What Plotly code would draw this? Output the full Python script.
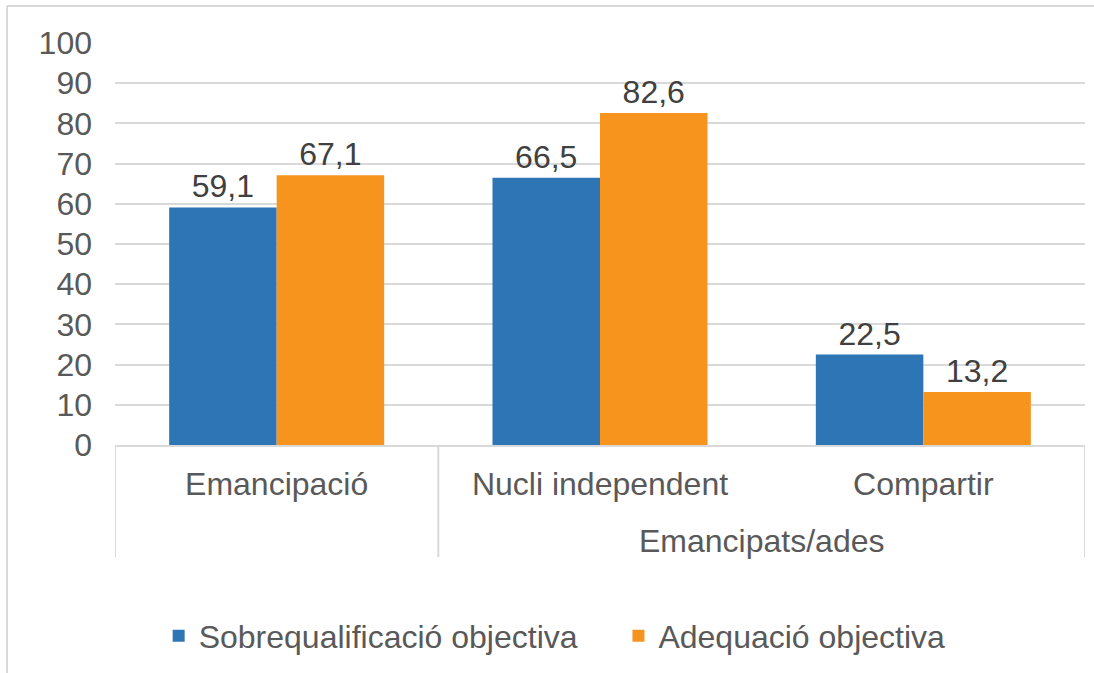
import plotly.graph_objects as go

categories = ["Emancipació", "Nucli independent", "Compartir"]
group_label = "Emancipats/ades"
series_names = ["Sobrequalificació objectiva", "Adequació objectiva"]
sobrequalificacio = [59.1, 66.5, 22.5]
adequacio = [67.1, 82.6, 13.2]
y_ticks = [0, 10, 20, 30, 40, 50, 60, 70, 80, 90, 100]

BLUE = "#2E75B6"
ORANGE = "#F7941E"
GRID = "#D9D9D9"
TXT = "#595959"
FONT = "Arial, Liberation Sans, sans-serif"
FS = 32

fig = go.Figure()
for name, vals, col, lg in [(series_names[0], sobrequalificacio, BLUE, "legend"),
                            (series_names[1], adequacio, ORANGE, "legend2")]:
    fig.add_trace(go.Bar(
        x=list(range(len(categories))), y=vals, name=name,
        marker=dict(color=col, line=dict(width=0)),
        text=vals, texttemplate="%{y:.1f}", textposition="outside",
        textfont=dict(family=FONT, size=FS, color="#404040"),
        cliponaxis=False, legend=lg,
    ))

legend_common = dict(orientation="h", yanchor="middle", xanchor="left",
                     font=dict(family=FONT, size=FS, color=TXT),
                     itemwidth=30, bgcolor="rgba(0,0,0,0)")

fig.update_layout(
    width=1094, height=673,
    margin=dict(l=115, r=9, t=43, b=228),
    paper_bgcolor="white", plot_bgcolor="white",
    separators=",.",
    barmode="group", bargap=0.335, bargroupgap=0,
    font=dict(family=FONT, size=FS, color=TXT),
    showlegend=True,
    legend=dict(x=0.045, y=-0.475, **legend_common),
    legend2=dict(x=0.519, y=-0.475, **legend_common),
    xaxis=dict(
        tickmode="array", tickvals=list(range(len(categories))), ticktext=categories,
        range=[-0.5, len(categories) - 0.5],
        showgrid=False, zeroline=False, showline=True, linecolor=GRID, linewidth=2,
        ticks="", ticklabelstandoff=10,
        tickfont=dict(family=FONT, size=FS, color=TXT),
    ),
    yaxis=dict(
        range=[0, 100], tickvals=y_ticks, showgrid=True, gridcolor=GRID, gridwidth=2,
        zeroline=False, showline=False, ticks="", ticklabelstandoff=22,
        tickfont=dict(family=FONT, size=FS, color=TXT),
    ),
)

# category/group divider lines below the axis
for xv in [-0.5, 0.5, len(categories) - 0.5]:
    fig.add_shape(type="line", xref="x", yref="paper", x0=xv, x1=xv, y0=0, y1=-0.279,
                  line=dict(color=GRID, width=2))

# group label
fig.add_annotation(x=1.5, xref="x", y=-0.24, yref="paper", text=group_label,
                   showarrow=False, yanchor="middle",
                   font=dict(family=FONT, size=FS, color=TXT))

# outer chart border (partially cropped)
fig.add_shape(type="line", xref="paper", yref="paper", x0=-0.1113, x1=1.2, y0=1.092, y1=1.092,
              line=dict(color=GRID, width=2))
fig.add_shape(type="line", xref="paper", yref="paper", x0=-0.1113, x1=-0.1113, y0=1.092, y1=-0.6,
              line=dict(color=GRID, width=2))

fig.write_html("out.html", config={"displayModeBar": False},
               post_script="document.body.style.margin='0';document.body.style.overflow='hidden';")
